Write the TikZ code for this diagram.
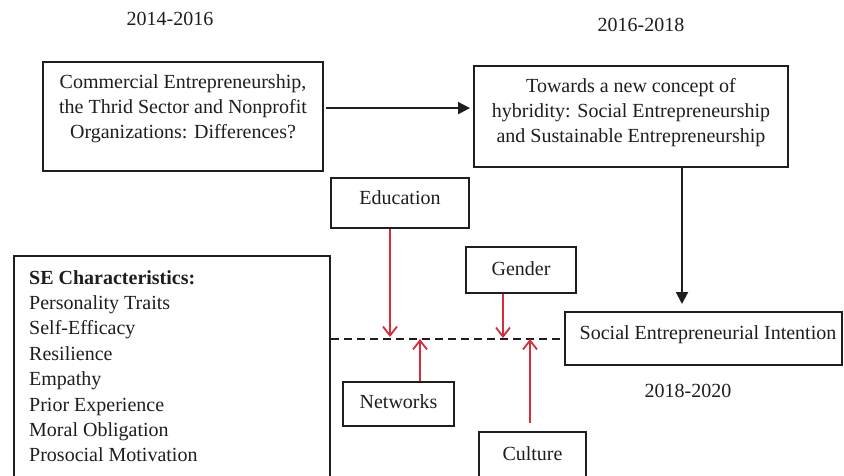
\documentclass[tikz,border=0pt]{standalone}
\usepackage{fontspec}
\setmainfont{Liberation Serif}
\usetikzlibrary{arrows.meta}
\definecolor{redarrow}{RGB}{214,45,58}
\definecolor{ink}{RGB}{30,30,30}
\tikzset{
  box/.style={draw=ink, line width=2pt, inner sep=0pt},
  txt/.style={inner sep=0pt, text=ink, font=\fontsize{20}{25}\selectfont},
  blackarrow/.style={draw=ink, line width=2pt, -{Triangle[length=12pt,width=12pt]}},
  redarr/.style={draw=redarrow, line width=1.8pt, -{Straight Barb[length=9pt,width=14pt,line width=1.8pt]}},
  dashline/.style={draw=ink, line width=2pt, dash pattern=on 8pt off 5pt}
}
\begin{document}
\begin{tikzpicture}[x=1pt,y=-1pt]
\useasboundingbox (0,0) rectangle (844,475);
\clip (0,0) rectangle (844,475);
\fill[white] (0,0) rectangle (844,475);

% years
\node[txt, anchor=base] (y1) at (170,25) {2014-2016};
\node[txt, anchor=base] (y2) at (641,31) {2016-2018};
\node[txt, anchor=base] (y3) at (688,397) {2018-2020};

% top boxes
\node[box, minimum width=280, minimum height=109] (comm) at (183,116.5) {};
\node[txt, anchor=base] (comm-t1) at (183,88) {Commercial Entrepreneurship,};
\node[txt, anchor=base] (comm-t2) at (183,113) {the Thrid Sector and Nonprofit};
\node[txt, anchor=base] (comm-t3) at (183,138) {Organizations: Differences?};

\node[box, minimum width=314, minimum height=101] (hyb) at (631,116.5) {};
\node[txt, anchor=base] (hyb-t1) at (631,92) {Towards a new concept of};
\node[txt, anchor=base] (hyb-t2) at (631,117) {hybridity: Social Entrepreneurship};
\node[txt, anchor=base] (hyb-t3) at (631,142) {and Sustainable Entrepreneurship};

% small factor boxes
\node[box, minimum width=138, minimum height=50] (edu) at (400,203) {};
\node[txt, anchor=base] (edu-t) at (400,204) {Education};

\node[box, minimum width=110, minimum height=46] (gen) at (521,270) {};
\node[txt, anchor=base] (gen-t) at (521,275) {Gender};

\node[box, minimum width=111, minimum height=44] (net) at (398.5,404) {};
\node[txt, anchor=base] (net-t) at (398.5,408) {Networks};

\node[box, minimum width=107, minimum height=56] (cul) at (532.5,460) {};
\node[txt, anchor=base] (cul-t) at (532.5,460) {Culture};

% SE characteristics
\node[box, minimum width=316, minimum height=230] (se) at (172,371) {};
\node[txt, anchor=base west] (se-h) at (29,284) {\bfseries SE Characteristics:};
\node[txt, anchor=base west] (se-1) at (29,309.4) {Personality Traits};
\node[txt, anchor=base west] (se-2) at (29,334.8) {Self-Efficacy};
\node[txt, anchor=base west] (se-3) at (29,360.2) {Resilience};
\node[txt, anchor=base west] (se-4) at (29,385.6) {Empathy};
\node[txt, anchor=base west] (se-5) at (29,411) {Prior Experience};
\node[txt, anchor=base west] (se-6) at (29,436.4) {Moral Obligation};
\node[txt, anchor=base west] (se-7) at (29,461.8) {Prosocial Motivation};

% social entrepreneurial intention
\node[box, minimum width=277, minimum height=53] (sei) at (703.5,338.5) {};
\node[txt, anchor=base] (sei-t) at (708,339) {Social Entrepreneurial Intention};

% points on the dashed line
\coordinate (m1) at (390,337);
\coordinate (m2) at (420,339);
\coordinate (m3) at (503,338);
\coordinate (m4) at (530,339);

% connectors
\draw[blackarrow, shorten <=2pt, shorten >=3pt] (comm.east |- comm-t2.center) -- (hyb.west |- comm-t2.center);
\draw[blackarrow, shorten >=7pt] (hyb.south -| 682,0) -- (sei.north -| 682,0);
\draw[dashline] (se.east |- sei.center) -- (sei.west);

\draw[redarr] (edu.south -| m1) -- (m1);
\draw[redarr] (net.north -| m2) -- (m2);
\draw[redarr] (gen.south -| m3) -- (m3);
\draw[redarr, shorten <=8pt] (cul.north -| m4) -- (m4);
\end{tikzpicture}
\end{document}
